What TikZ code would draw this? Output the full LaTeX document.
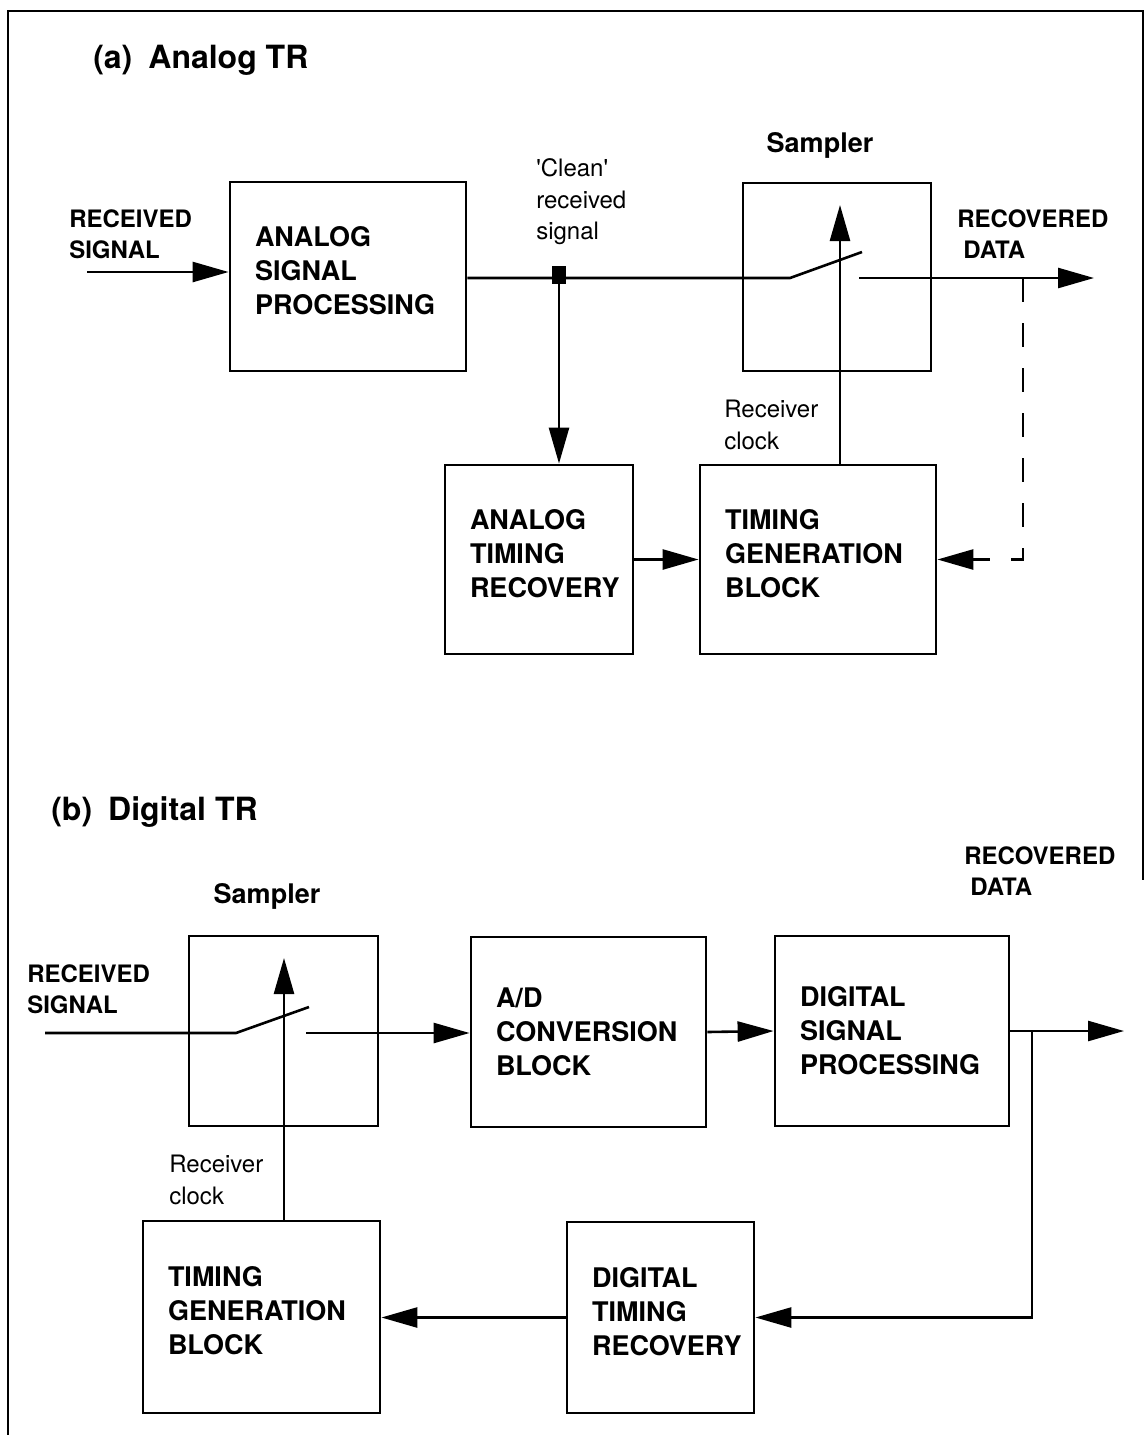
\documentclass[tikz,border=0pt]{standalone}
\usepackage{fontspec}
\setmainfont{TeX Gyre Heros}
\usetikzlibrary{arrows.meta}
\begin{document}
\begin{tikzpicture}[x=1pt,y=-1pt,
  line width=2.6pt,
  blk/.style={draw, line width=2.8pt, inner xsep=25pt, inner ysep=0pt, align=left,
    font=\bfseries\fontsize{27}{34}\selectfont},
  lift/.style={text depth=80.5pt},
  lbl/.style={inner sep=0pt, align=left, anchor=west, font=\bfseries\fontsize{24}{31}\selectfont},
  sml/.style={inner sep=0pt, align=left, anchor=west, font=\fontsize{24}{31.5}\selectfont},
  ttl/.style={inner sep=0pt, anchor=base west, font=\bfseries\fontsize{32}{38}\selectfont},
  arr/.style={-{Triangle[length=36pt,width=20pt]}},
  dsh/.style={dash pattern=on 24pt off 21pt},
]
\useasboundingbox (0,0) rectangle (1148,1435);
% frame
\draw (8,1435) -- (8,11) -- (1143,11) -- (1143,880);

% ---------------- (a) ----------------
\node[ttl] (ta) at (92,68) {(a)\enspace Analog TR};
\node[blk, lift, minimum width=236pt, minimum height=189pt, text width=186pt] (aasp) at (348,276.5) {ANALOG\\SIGNAL\\PROCESSING};
\node[draw, line width=2.8pt, minimum width=188pt, minimum height=188pt, inner sep=0pt] (asmp) at (837,277) {};
\node[blk, lift, minimum width=188pt, minimum height=189pt, text width=138pt] (aatr) at (539,559.5) {ANALOG\\TIMING\\RECOVERY};
\node[blk, lift, minimum width=236pt, minimum height=189pt, text width=186pt] (atgb) at (818,559.5) {TIMING\\GENERATION\\BLOCK};

\node[lbl] (arsl) at (68,234.5) {RECEIVED\\SIGNAL};
\node[lbl] (ardl) at (956,234.5) {RECOVERED\\\hspace*{6pt}DATA};
\node[sml] (acln) at (535,202) {\textquotesingle Clean\textquotesingle\\received\\signal};
\node[sml] (aclk) at (723,425) {Receiver\\clock};
\node[inner sep=0pt, font=\bfseries\fontsize{27}{34}\selectfont] (asl) at (820,145) {Sampler};

\coordinate (ain) at (87,272);
\draw[arr] (ain) -- (ain -| aasp.west);
\coordinate (asw1) at (790,278);
\coordinate (asw2) at (862,252);
\draw (aasp.east |- asw1) -- (asw1) -- (asw2);
\node[fill, minimum width=14pt, minimum height=18pt, inner sep=0pt] (ajn) at (559,275) {};
\draw[arr] (ajn.center) -- (ajn.center |- aatr.north);
\coordinate (aout) at (859,278);
\coordinate (aend) at (1094,278);
\draw[arr] (aout) -- (aend);
\coordinate (actip) at (840,205);
\draw[arr] (actip |- atgb.north) -- (actip);
\draw[arr] (aatr.east) -- (atgb.west);
\coordinate (adt) at (1023,278);
\draw[arr, dsh] (adt) -- (adt |- atgb.east) -- (atgb.east);

% ---------------- (b) ----------------
\node[ttl] (tb) at (50,820) {(b)\enspace Digital TR};
\node[draw, line width=2.8pt, minimum width=189pt, minimum height=190pt, inner sep=0pt] (bsmp) at (283.5,1031) {};
\node[blk, minimum width=235pt, minimum height=190pt, text width=185pt] (bad) at (588.5,1032) {A/D\\CONVERSION\\BLOCK};
\node[blk, minimum width=234pt, minimum height=190pt, text width=184pt] (bdsp) at (892,1031) {DIGITAL\\SIGNAL\\PROCESSING};
\node[blk, lift, minimum width=187pt, minimum height=191pt, text width=137pt] (bdtr) at (660.5,1317.5) {DIGITAL\\TIMING\\RECOVERY};
\node[blk, lift, minimum width=237pt, minimum height=192pt, text width=187pt] (btgb) at (261.5,1317) {TIMING\\GENERATION\\BLOCK};

\node[lbl] (brsl) at (26,989.5) {RECEIVED\\SIGNAL};
\node[lbl] (brdl) at (963,871.5) {RECOVERED\\\hspace*{6pt}DATA};
\node[sml] (bclk) at (168,1180) {Receiver\\clock};
\node[inner sep=0pt, font=\bfseries\fontsize{27}{34}\selectfont] (bsl) at (267,896) {Sampler};

\coordinate (bin) at (45,1033);
\coordinate (bsw1) at (236,1033);
\coordinate (bsw2) at (309,1007);
\draw (bin) -- (bsw1) -- (bsw2);
\coordinate (bout) at (306,1033);
\draw[arr] (bout) -- (bout -| bad.west);
\draw[arr] (bad.east) -- (bdsp.west);
\coordinate (bend) at (1124,1031);
\draw[arr] (bdsp.east |- bend) -- (bend);
\coordinate (bbr) at (1032,1031);
\draw[arr] (bbr) -- (bbr |- bdtr.east) -- (bdtr.east);
\draw[arr] (bdtr.west) -- (bdtr.west -| btgb.east);
\coordinate (bctip) at (284,958);
\draw[arr] (bctip |- btgb.north) -- (bctip);
\end{tikzpicture}
\end{document}
